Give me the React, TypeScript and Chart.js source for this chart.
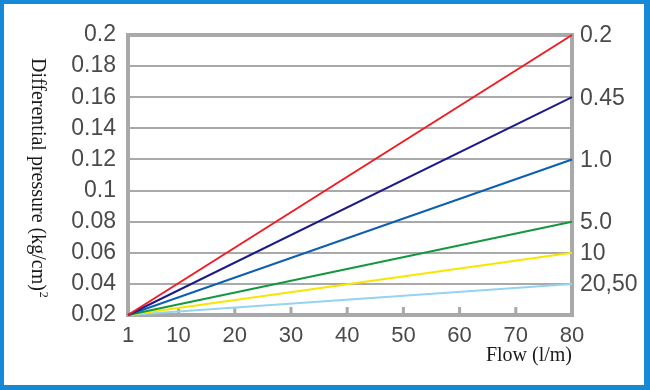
import React, { useEffect, useRef } from "react";
import { Chart, registerables } from "chart.js";

Chart.register(...registerables);

const flow = [1, 80];
const xTicks = [1, 10, 20, 30, 40, 50, 60, 70, 80];
const yTicks = [0.02, 0.04, 0.06, 0.08, 0.1, 0.12, 0.14, 0.16, 0.18, 0.2];
const seriesNames = ["0.2", "0.45", "1.0", "5.0", "10", "20,50"];
const s02 = [0.02, 0.2];
const s045 = [0.02, 0.16];
const s10 = [0.02, 0.12];
const s50 = [0.02, 0.08];
const s100 = [0.02, 0.06];
const s2050 = [0.02, 0.04];
const seriesColors = ["#ee1c25", "#1b1b8a", "#0e5fb0", "#13983f", "#f7e600", "#96d2f2"];
const yTitle = "Differential pressure (kg/cm)";
const yTitleSup = "2";
const xTitle = "Flow (l/m)";

const GRID = "#a9a9a9";
const TEXT = "#4a4a4a";
const SANS = "'Liberation Sans', Arial, Helvetica, sans-serif";
const SERIF = "'Liberation Serif', 'Times New Roman', serif";

export default function App() {
  const ref = useRef<HTMLCanvasElement | null>(null);

  useEffect(() => {
    document.body.style.margin = "0";
    const canvas = ref.current;
    if (!canvas) return;
    const seriesValues = [s02, s045, s10, s50, s100, s2050];

    const decor = {
      id: "decor",
      beforeDraw(chart: any) {
        const ctx = chart.ctx;
        ctx.save();
        ctx.fillStyle = "#ffffff";
        ctx.fillRect(0, 0, chart.width, chart.height);
        ctx.restore();
      },
      beforeDatasetsDraw(chart: any) {
        const ctx = chart.ctx;
        const a = chart.chartArea;
        const xs = chart.scales.x;
        ctx.save();
        ctx.strokeStyle = GRID;
        // inward ticks on bottom
        ctx.lineWidth = 3;
        xTicks.forEach((v) => {
          if (v === xTicks[0] || v === xTicks[xTicks.length - 1]) return;
          const px = xs.getPixelForValue(v);
          ctx.beginPath();
          ctx.moveTo(px, a.bottom);
          ctx.lineTo(px, a.bottom - 8);
          ctx.stroke();
        });
        // frame
        ctx.lineWidth = 4;
        ctx.strokeRect(a.left, a.top, a.right - a.left, a.bottom - a.top);
        ctx.restore();
      },
      afterDraw(chart: any) {
        const ctx = chart.ctx;
        const a = chart.chartArea;
        const ys = chart.scales.y;
        const xs = chart.scales.x;
        ctx.save();
        // series labels on right
        ctx.fillStyle = TEXT;
        ctx.font = `23px ${SANS}`;
        ctx.textAlign = "left";
        ctx.textBaseline = "middle";
        seriesNames.forEach((name, i) => {
          const vals = seriesValues[i];
          const py = ys.getPixelForValue(vals[vals.length - 1]);
          ctx.fillText(name, a.right + 8, py + 1);
        });
        // x title
        ctx.font = `20px ${SERIF}`;
        ctx.fillStyle = "#1a1a1a";
        ctx.textAlign = "right";
        ctx.textBaseline = "alphabetic";
        ctx.fillText(xTitle, xs.right, 361);
        // y title rotated clockwise
        ctx.translate(32, 58);
        ctx.rotate(Math.PI / 2);
        ctx.textAlign = "left";
        ctx.fillText(yTitle, 0, 0);
        const w = ctx.measureText(yTitle).width;
        ctx.font = `12px ${SERIF}`;
        ctx.fillText(yTitleSup, w + 1, -8);
        ctx.restore();
        // blue outer border
        ctx.save();
        ctx.fillStyle = "#1689d6";
        ctx.fillRect(0, 0, chart.width, 4);
        ctx.fillRect(0, 0, 4, chart.height);
        ctx.fillRect(0, chart.height - 5, chart.width, 5);
        ctx.fillRect(chart.width - 6, 0, 6, chart.height);
        ctx.restore();
      },
    };

    const chart = new Chart(canvas, {
      type: "line",
      data: {
        datasets: seriesNames.map((name, i) => ({
          label: name,
          data: flow.map((f, j) => ({ x: f, y: seriesValues[i][j] })),
          borderColor: seriesColors[i],
          backgroundColor: seriesColors[i],
          borderWidth: 2,
          pointRadius: 0,
          tension: 0,
          clip: 6,
        })),
      },
      options: {
        responsive: false,
        animation: false,
        devicePixelRatio: 1,
        layout: { padding: { left: 0, right: 78, top: 35, bottom: 0 } },
        plugins: { legend: { display: false }, tooltip: { enabled: false } },
        scales: {
          x: {
            type: "linear",
            min: 1,
            max: 80,
            afterBuildTicks: (s: any) => {
              s.ticks = xTicks.map((v) => ({ value: v }));
            },
            afterFit: (s: any) => {
              s.height = 75;
            },
            grid: { display: false, drawTicks: false },
            border: { display: false },
            ticks: {
              padding: 8,
              color: TEXT,
              font: { size: 22, family: SANS },
              maxRotation: 0,
              autoSkip: false,
              callback: (v: any) => String(v),
            },
          },
          y: {
            type: "linear",
            min: 0.02,
            max: 0.2,
            afterBuildTicks: (s: any) => {
              s.ticks = yTicks.map((v) => ({ value: v }));
            },
            afterFit: (s: any) => {
              s.width = 128;
            },
            grid: { color: GRID, lineWidth: 2, drawTicks: false },
            border: { display: false },
            ticks: {
              padding: 12,
              color: TEXT,
              font: { size: 23, family: SANS },
              autoSkip: false,
              callback: (v: any) => String(Number(Number(v).toFixed(2))),
            },
          },
        },
      },
      plugins: [decor],
    } as any);

    return () => chart.destroy();
  }, []);

  return (
    <div style={{ width: 650, height: 390, position: "relative" }}>
      <canvas ref={ref} width={650} height={390} style={{ display: "block", width: 650, height: 390 }} />
    </div>
  );
}
